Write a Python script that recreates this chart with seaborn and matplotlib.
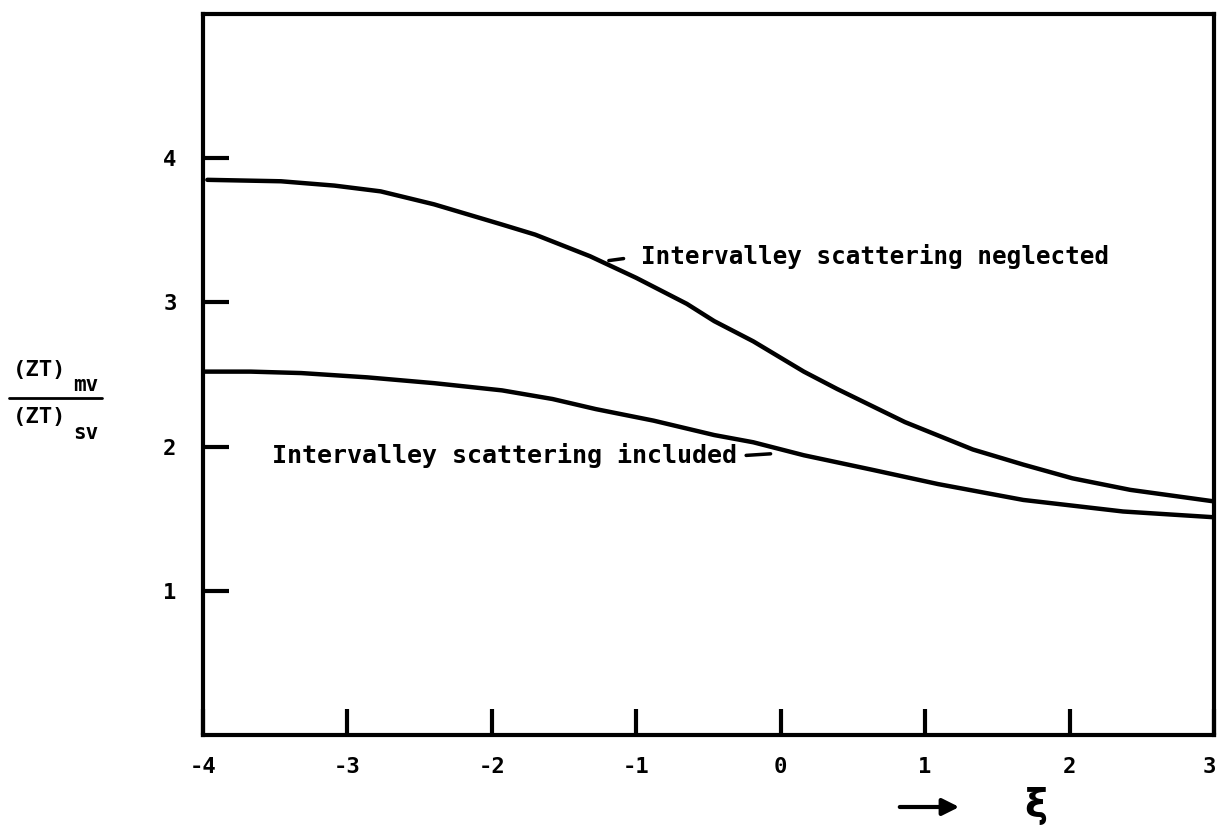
import numpy as np
import pandas as pd
import matplotlib
matplotlib.use("Agg")
import matplotlib.pyplot as plt
import matplotlib.transforms as mtransforms
import seaborn as sns
from matplotlib.lines import Line2D

# ---- data ----
neglected_x = [-3.97, -3.46, -3.09, -2.77, -2.40, -1.93, -1.70, -1.32, -1.00, -0.65,
               -0.46, -0.19, 0.16, 0.39, 0.86, 1.33, 1.68, 2.02, 2.42, 3.00]
neglected_y = [3.85, 3.84, 3.81, 3.77, 3.68, 3.54, 3.47, 3.32, 3.17, 2.99,
               2.87, 2.73, 2.52, 2.40, 2.17, 1.98, 1.875, 1.78, 1.70, 1.62]
included_x = [-3.99, -3.67, -3.32, -2.86, -2.40, -1.93, -1.58, -1.28, -0.88, -0.46,
              -0.19, 0.16, 0.63, 1.09, 1.68, 2.37, 3.00]
included_y = [2.52, 2.52, 2.51, 2.48, 2.44, 2.39, 2.33, 2.26, 2.18, 2.08,
              2.03, 1.94, 1.84, 1.74, 1.63, 1.55, 1.51]
x_ticks = [-4, -3, -2, -1, 0, 1, 2, 3]
x_tick_labels = ["-4", "-3", "-2", "-1", "0", "1", "2", "3"]
y_ticks = [1, 2, 3, 4]
y_tick_labels = ["1", "2", "3", "4"]
label_neglected = "Intervalley scattering neglected"
label_included = "Intervalley scattering included"

df = pd.concat([
    pd.DataFrame({"xi": neglected_x, "ratio": neglected_y, "case": "neglected"}),
    pd.DataFrame({"xi": included_x, "ratio": included_y, "case": "included"}),
])

sns.set_style("white")
plt.rcParams["font.family"] = ["DejaVu Sans Mono", "DejaVu Sans"]
plt.rcParams["font.weight"] = "bold"
plt.rcParams["text.color"] = "black"
plt.rcParams["xtick.color"] = "black"
plt.rcParams["ytick.color"] = "black"
plt.rcParams["axes.labelcolor"] = "black"

W, H = 1218, 831
fig = plt.figure(figsize=(W / 100, H / 100), dpi=100)
ax = fig.add_axes([203 / W, 1 - 735 / H, (1214 - 203) / W, (735 - 14) / H])

sns.lineplot(data=df, x="xi", y="ratio", hue="case", units="case", estimator=None,
             palette={"neglected": "black", "included": "black"}, lw=3.2,
             legend=False, ax=ax, sort=True)

ax.set_xlim(-4, 3)
ax.set_ylim(0, 5)
ax.set_xticks(x_ticks)
ax.set_xticklabels(x_tick_labels)
ax.set_yticks(y_ticks)
ax.set_yticklabels(y_tick_labels)
ax.tick_params(bottom=True, left=True, top=False, right=False,
               direction="in", length=19, width=3, labelsize=16,
               color="black", labelcolor="black")
ax.tick_params(axis="x", pad=16)
ax.tick_params(axis="y", pad=19)
ax.set_xlabel("")
ax.set_ylabel("")
for s in ax.spines.values():
    s.set_visible(True)
    s.set_linewidth(3)
    s.set_color("black")

# keep the last x tick label inside the figure
last = ax.get_xticklabels()[-1]
last.set_transform(last.get_transform() +
                   mtransforms.ScaledTranslation(-5 / 100, 0, fig.dpi_scale_trans))

# curve annotations
ax.annotate(label_neglected, xy=(-1.19, 3.29), xytext=(-0.97, 3.32),
            fontsize=17.5, fontweight="bold", ha="left", va="center", color="black",
            arrowprops=dict(arrowstyle="-", lw=2.5, color="black",
                            relpos=(0, 0.5), shrinkA=10, shrinkB=0))
ax.annotate(label_included, xy=(-0.07, 1.95), xytext=(-3.52, 1.935),
            fontsize=18, fontweight="bold", ha="left", va="center", color="black",
            arrowprops=dict(arrowstyle="-", lw=2.5, color="black",
                            relpos=(1, 0.5), shrinkA=4, shrinkB=0))

# y-axis label as a stacked fraction
def fp(x, y):
    return (x / W, 1 - y / H)

fig.text(*fp(40, 370), "(ZT)", fontsize=16, fontweight="bold", ha="center", va="center")
fig.text(*fp(86, 385), "mv", fontsize=15, fontweight="bold", ha="center", va="center")
fig.text(*fp(40, 417), "(ZT)", fontsize=16, fontweight="bold", ha="center", va="center")
fig.text(*fp(86, 433), "sv", fontsize=15, fontweight="bold", ha="center", va="center")
x0, y0 = fp(9, 398)
x1, _ = fp(102, 398)
fig.add_artist(Line2D([x0, x1], [y0, y0], transform=fig.transFigure, color="black", lw=2))

# x-axis label: arrow and xi
fig.add_artist(matplotlib.patches.FancyArrowPatch(
    fp(897, 807), fp(962, 807), transform=fig.transFigure,
    arrowstyle="-|>,head_length=10,head_width=5", lw=3, color="black"))
fig.text(*fp(1036, 806), "ξ", fontsize=28, fontweight="bold", ha="center", va="center",
         family="DejaVu Sans")

fig.savefig("out.png", dpi=100)
